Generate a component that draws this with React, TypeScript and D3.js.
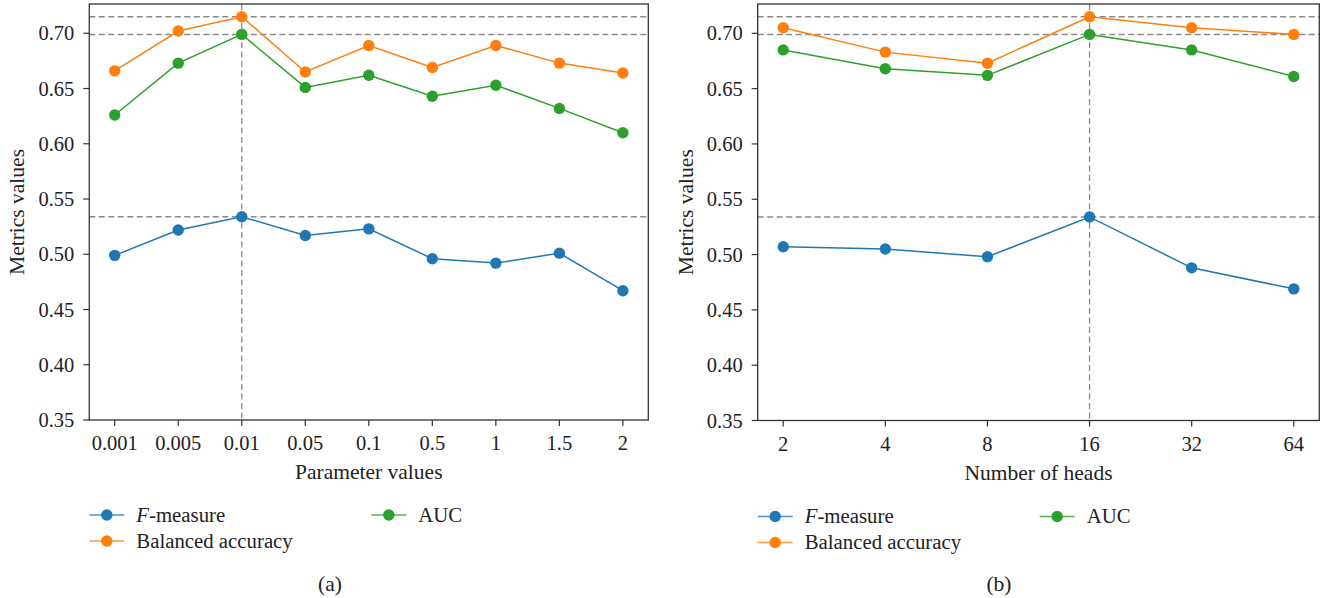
import React from "react";
import * as d3 from "d3";

const paramLabels = ["0.001", "0.005", "0.01", "0.05", "0.1", "0.5", "1", "1.5", "2"];
const paramFMeasure = [0.499, 0.522, 0.534, 0.517, 0.523, 0.496, 0.492, 0.501, 0.467];
const paramBalanced = [0.666, 0.702, 0.715, 0.665, 0.689, 0.669, 0.689, 0.673, 0.664];
const paramAUC = [0.626, 0.673, 0.699, 0.651, 0.662, 0.643, 0.653, 0.632, 0.61];

const headLabels = ["2", "4", "8", "16", "32", "64"];
const headFMeasure = [0.507, 0.505, 0.498, 0.534, 0.488, 0.469];
const headBalanced = [0.705, 0.683, 0.673, 0.715, 0.705, 0.699];
const headAUC = [0.685, 0.668, 0.662, 0.699, 0.685, 0.661];

const yTicks = [0.35, 0.4, 0.45, 0.5, 0.55, 0.6, 0.65, 0.7];

const BLUE = "#1f77b4";
const ORANGE = "#ff7f0e";
const GREEN = "#2ca02c";
const FONT = "'Liberation Serif', 'DejaVu Serif', serif";
const TEXT = "#222";
const SPINE = "#333";
const DASH = "#8a8a8a";
const TICK_FS = 20.5;
const LABEL_FS = 21.5;
const LEGEND_FS = 20.8;
const R = 5.7;

type PanelProps = {
  labels: string[];
  f: number[];
  bal: number[];
  auc: number[];
  bestIdx: number;
  left: number;
  right: number;
  top: number;
  bottom: number;
  xLabel: string;
  yLabelX: number;
  caption: string;
  captionX: number;
  legendDy: number;
};

function Panel(p: PanelProps) {
  const n = p.labels.length;
  const pad = (n - 1) * 0.05;
  const x = d3.scaleLinear().domain([-pad, n - 1 + pad]).range([p.left, p.right]);
  const y = d3.scaleLinear().domain([0.35, 0.7265]).range([p.bottom, p.top]);
  const line = d3
    .line<number>()
    .x((_, i) => x(i))
    .y((d) => y(d));
  const series = [
    { name: "f", data: p.f, color: BLUE },
    { name: "bal", data: p.bal, color: ORANGE },
    { name: "auc", data: p.auc, color: GREEN },
  ];
  const maxes = [d3.max(p.f)!, d3.max(p.bal)!, d3.max(p.auc)!];
  const cx = (p.left + p.right) / 2;
  const cy = (p.top + p.bottom) / 2;
  const lgX = p.left;
  const lgY1 = 515 + p.legendDy;
  const lgY2 = 541 + p.legendDy;
  const col2 = p.left + 282;
  const legendItem = (xx: number, yy: number, color: string, label: React.ReactNode) => (
    <g>
      <line x1={xx} x2={xx + 35} y1={yy} y2={yy} stroke={color} strokeWidth={1.6} opacity={0.8} />
      <circle cx={xx + 17.5} cy={yy} r={R} fill={color} />
      <text x={xx + 47} y={yy + 6.5} fontSize={LEGEND_FS} fontFamily={FONT} fill={TEXT}>
        {label}
      </text>
    </g>
  );
  return (
    <g>
      {maxes.map((m, i) => (
        <line key={"h" + i} x1={p.left} x2={p.right} y1={y(m)} y2={y(m)} stroke={DASH} strokeWidth={1.5} strokeDasharray="6,3.5" />
      ))}
      <line x1={x(p.bestIdx)} x2={x(p.bestIdx)} y1={p.top} y2={p.bottom} stroke={DASH} strokeWidth={1.3} strokeDasharray="6,3.5" />
      {series.map((s) => (
        <g key={s.name}>
          <path d={line(s.data)!} fill="none" stroke={s.color} strokeWidth={1.5} />
          {s.data.map((v, i) => (
            <circle key={i} cx={x(i)} cy={y(v)} r={R} fill={s.color} />
          ))}
        </g>
      ))}
      <rect x={p.left} y={p.top} width={p.right - p.left} height={p.bottom - p.top} fill="none" stroke={SPINE} strokeWidth={1.3} />
      {yTicks.map((t) => (
        <g key={t}>
          <line x1={p.left - 6} x2={p.left} y1={y(t)} y2={y(t)} stroke={SPINE} strokeWidth={1.2} />
          <text x={p.left - 15} y={y(t) + 7} textAnchor="end" fontSize={TICK_FS} fontFamily={FONT} fill={TEXT}>
            {d3.format(".2f")(t)}
          </text>
        </g>
      ))}
      {p.labels.map((l, i) => (
        <g key={l}>
          <line x1={x(i)} x2={x(i)} y1={p.bottom} y2={p.bottom + 6} stroke={SPINE} strokeWidth={1.2} />
          <text x={x(i)} y={p.bottom + 30} textAnchor="middle" fontSize={TICK_FS} fontFamily={FONT} fill={TEXT}>
            {l}
          </text>
        </g>
      ))}
      <text x={cx} y={p.bottom + 59} textAnchor="middle" fontSize={LABEL_FS} fontFamily={FONT} fill={TEXT}>
        {p.xLabel}
      </text>
      <text
        transform={`translate(${p.yLabelX},${cy}) rotate(-90)`}
        textAnchor="middle"
        fontSize={LABEL_FS}
        fontFamily={FONT}
        fill={TEXT}
      >
        Metrics values
      </text>
      {legendItem(lgX, lgY1, BLUE, (
        <>
          <tspan fontStyle="italic">F</tspan>-measure
        </>
      ))}
      {legendItem(lgX, lgY2, ORANGE, "Balanced accuracy")}
      {legendItem(col2, lgY1, GREEN, "AUC")}
      <text x={p.captionX} y={591} textAnchor="middle" fontSize={LABEL_FS} fontFamily={FONT} fill={TEXT}>
        {p.caption}
      </text>
    </g>
  );
}

export default function App() {
  return (
    <svg
      width={1325}
      height={598}
      viewBox="0 0 1325 598"
      style={{ position: "absolute", left: 0, top: 0, background: "#fff" }}
    >
      <rect width={1325} height={598} fill="#fff" />
      <Panel
        labels={paramLabels}
        f={paramFMeasure}
        bal={paramBalanced}
        auc={paramAUC}
        bestIdx={2}
        left={89.3}
        right={648.3}
        top={4}
        bottom={420}
        xLabel="Parameter values"
        yLabelX={24}
        caption="(a)"
        captionX={330}
        legendDy={0}
      />
      <Panel
        labels={headLabels}
        f={headFMeasure}
        bal={headBalanced}
        auc={headAUC}
        bestIdx={3}
        left={757.7}
        right={1319.3}
        top={4}
        bottom={420.5}
        xLabel="Number of heads"
        yLabelX={693}
        caption="(b)"
        captionX={999}
        legendDy={1.5}
      />
    </svg>
  );
}
